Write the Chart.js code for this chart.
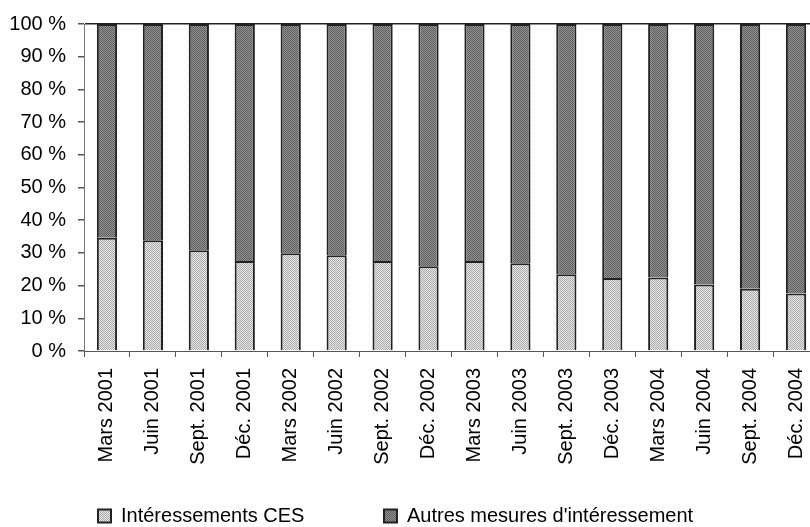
<!DOCTYPE html>
<html>
<head>
<meta charset="utf-8">
<script src="https://cdn.jsdelivr.net/npm/chart.js@4"></script>
<style>
    html, body { margin: 0; padding: 0; background: #fff; overflow: hidden; }
    #wrap { width: 840px; height: 536px; }
</style>
</head>
<body>
<div id="wrap"><canvas id="chart"></canvas></div>
<script>
const periods = [
    'Mars 2001', 'Juin 2001', 'Sept. 2001', 'Déc. 2001',
    'Mars 2002', 'Juin 2002', 'Sept. 2002', 'Déc. 2002',
    'Mars 2003', 'Juin 2003', 'Sept. 2003', 'Déc. 2003',
    'Mars 2004', 'Juin 2004', 'Sept. 2004', 'Déc. 2004'
];
const ces = [34.6, 33.9, 30.8, 27.5, 29.9, 29.3, 27.5, 25.9, 27.5, 26.8, 23.5, 22.3, 22.5, 20.3, 19.0, 17.6];
const autres = [65.4, 66.1, 69.2, 72.5, 70.1, 70.7, 72.5, 74.1, 72.5, 73.2, 76.5, 77.7, 77.5, 79.7, 81.0, 82.4];
const seriesNames = ['Intéressements CES', "Autres mesures d'intéressement"];
const yTicks = [0, 10, 20, 30, 40, 50, 60, 70, 80, 90, 100];

// small checker patterns, like the dotted fills of the original
function pattern(a, b) {
    const c = document.createElement('canvas');
    c.width = 2; c.height = 2;
    const g = c.getContext('2d');
    g.fillStyle = a; g.fillRect(0, 0, 2, 2);
    g.fillStyle = b; g.fillRect(0, 0, 1, 1); g.fillRect(1, 1, 1, 1);
    return g.createPattern(c, 'repeat');
}

const font = 'Liberation Sans, Arial, sans-serif';

new Chart(document.getElementById('chart'), {
    type: 'bar',
    data: {
        labels: periods,
        datasets: [
            {
                label: seriesNames[0],
                data: ces,
                backgroundColor: pattern('#e8e8e8', '#a9a9a9'),
                borderColor: '#222',
                borderWidth: 2,
                barPercentage: 0.44,
                categoryPercentage: 1
            },
            {
                label: seriesNames[1],
                data: autres,
                backgroundColor: pattern('#929292', '#5e5e5e'),
                borderColor: '#222',
                borderWidth: 2,
                barPercentage: 0.44,
                categoryPercentage: 1
            }
        ]
    },
    options: {
        responsive: true,
        maintainAspectRatio: false,
        animation: false,
        layout: {padding: {left: 8, top: 24, right: 21, bottom: 0}},
        plugins: {
            tooltip: {enabled: false},
            legend: {
                position: 'bottom',
                align: 'start',
                fullSize: false,
                labels: {
                    color: '#000',
                    font: {family: font, size: 20},
                    boxWidth: 13,
                    boxHeight: 13,
                    padding: 14,
                    generateLabels(chart) {
                        const items = Chart.defaults.plugins.legend.labels.generateLabels(chart);
                        items[0].text = items[0].text + '\u2003\u2003\u2003 ';
                        return items;
                    }
                }
            }
        },
        scales: {
            x: {
                stacked: true,
                afterFit(scale) {
                    scale.height = 141;
                    scale.paddingLeft = 0;
                    scale.paddingRight = 0;
                },
                grid: {drawOnChartArea: false, tickLength: 6, tickColor: '#555'},
                border: {color: '#555', width: 1},
                ticks: {
                    color: '#000',
                    font: {family: font, size: 20},
                    minRotation: 90,
                    maxRotation: 90,
                    autoSkip: false,
                    padding: 11
                }
            },
            y: {
                stacked: true,
                min: 0,
                max: 100,
                afterBuildTicks(scale) { scale.ticks = yTicks.map(v => ({value: v})); },
                afterFit(scale) { scale.width = 76; },
                grid: {
                    color: ctx => ctx.tick && ctx.tick.value === 100 ? '#222' : 'rgba(0,0,0,0)',
                    lineWidth: 1.5,
                    tickLength: 6,
                    tickColor: '#555'
                },
                border: {color: '#777', width: 1},
                ticks: {
                    color: '#000',
                    font: {family: font, size: 20},
                    padding: 12,
                    callback: v => v + ' %'
                }
            }
        }
    }
});
</script>
</body>
</html>
